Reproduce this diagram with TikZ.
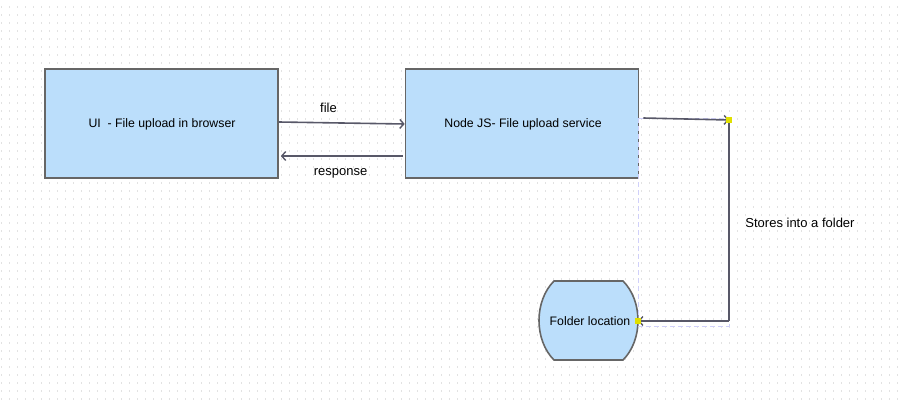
\documentclass[tikz,border=0pt]{standalone}
\usepackage{fontspec}
\setmainfont{Liberation Sans}
\usetikzlibrary{arrows.meta}
\definecolor{boxfill}{HTML}{BBDEFB}
\definecolor{boxline}{HTML}{666666}
\definecolor{wire}{HTML}{585868}
\definecolor{griddot}{HTML}{E2E2E2}
\definecolor{selbox}{HTML}{D0D0FA}
\definecolor{handle}{HTML}{E0E000}
\begin{document}
\begin{tikzpicture}[x=1pt,y=-1pt,
  txt/.style={font=\fontsize{12.3}{14}\selectfont, text=black},
  lbl/.style={font=\fontsize{13}{15}\selectfont, text=black},
  procbox/.style={draw=boxline, line width=1.6pt, fill=boxfill, minimum width=233pt, minimum height=109pt, inner sep=0pt, txt},
  conn/.style={draw=wire, line width=1.6pt, -{Straight Barb[length=4pt,width=9pt,line width=1.4pt]}},
  plain/.style={draw=wire, line width=1.6pt},
  handlebox/.style={fill=handle, minimum size=5.5pt, inner sep=0pt}
]
\useasboundingbox (0,0) rectangle (902,399);
\clip (0,0) rectangle (902,399);
% dotted background grid
\foreach \k in {0,...,112}
  \draw[griddot, line width=0.9pt, dash pattern=on 1.8pt off 6.2pt] (1+8*\k,-2) -- (1+8*\k,402);

% process boxes
\node[procbox] (ui)  at (161.5,123.5) {};
\node[txt] (uitext) at (162,124.5) {UI\ \ - File upload in browser};
\node[procbox] (njs) at (522,123.5) {};
\node[txt] (njstext) at (523,124.5) {Node JS- File upload service};

% folder storage shape
\path[draw=boxline, line width=1.6pt, fill=boxfill]
  (554,281) -- (623,281)
  .. controls (643,301) and (643,340) .. (623,360)
  -- (554,360)
  .. controls (534,340) and (534,301) .. (554,281) -- cycle;
\node[txt] (folder) at (590,321) {Folder location};
\coordinate (folderE) at (638,321);

% selection outline of the storage connector
\draw[selbox, line width=1pt, dash pattern=on 5pt off 3pt] (638,118) rectangle (729,326);

% request / response arrows
\draw[conn] ([yshift=1.5pt]ui.east) -- ([yshift=-0.5pt]njs.west);
\node[lbl] (filelbl) at (328.5,108) {file};
\draw[conn] ([yshift=-32.5pt, xshift=-2pt]njs.west) -- ([yshift=-32.5pt, xshift=2pt]ui.east);
\node[lbl] (resplbl) at (340.5,173) {response};

% storage connector
\coordinate (bend) at (729,120);
\coordinate (corner) at (729,321);
\draw[conn] ([xshift=4pt, yshift=5.5pt]njs.east) -- (bend);
\draw[plain] (bend) -- (corner);
\draw[conn] (corner) -- (folderE);
\node[handlebox] (h1) at (bend) {};
\node[handlebox] (h2) at (folderE) {};
\node[lbl] (storelbl) at (800,223) {Stores into a folder};
\end{tikzpicture}
\end{document}
